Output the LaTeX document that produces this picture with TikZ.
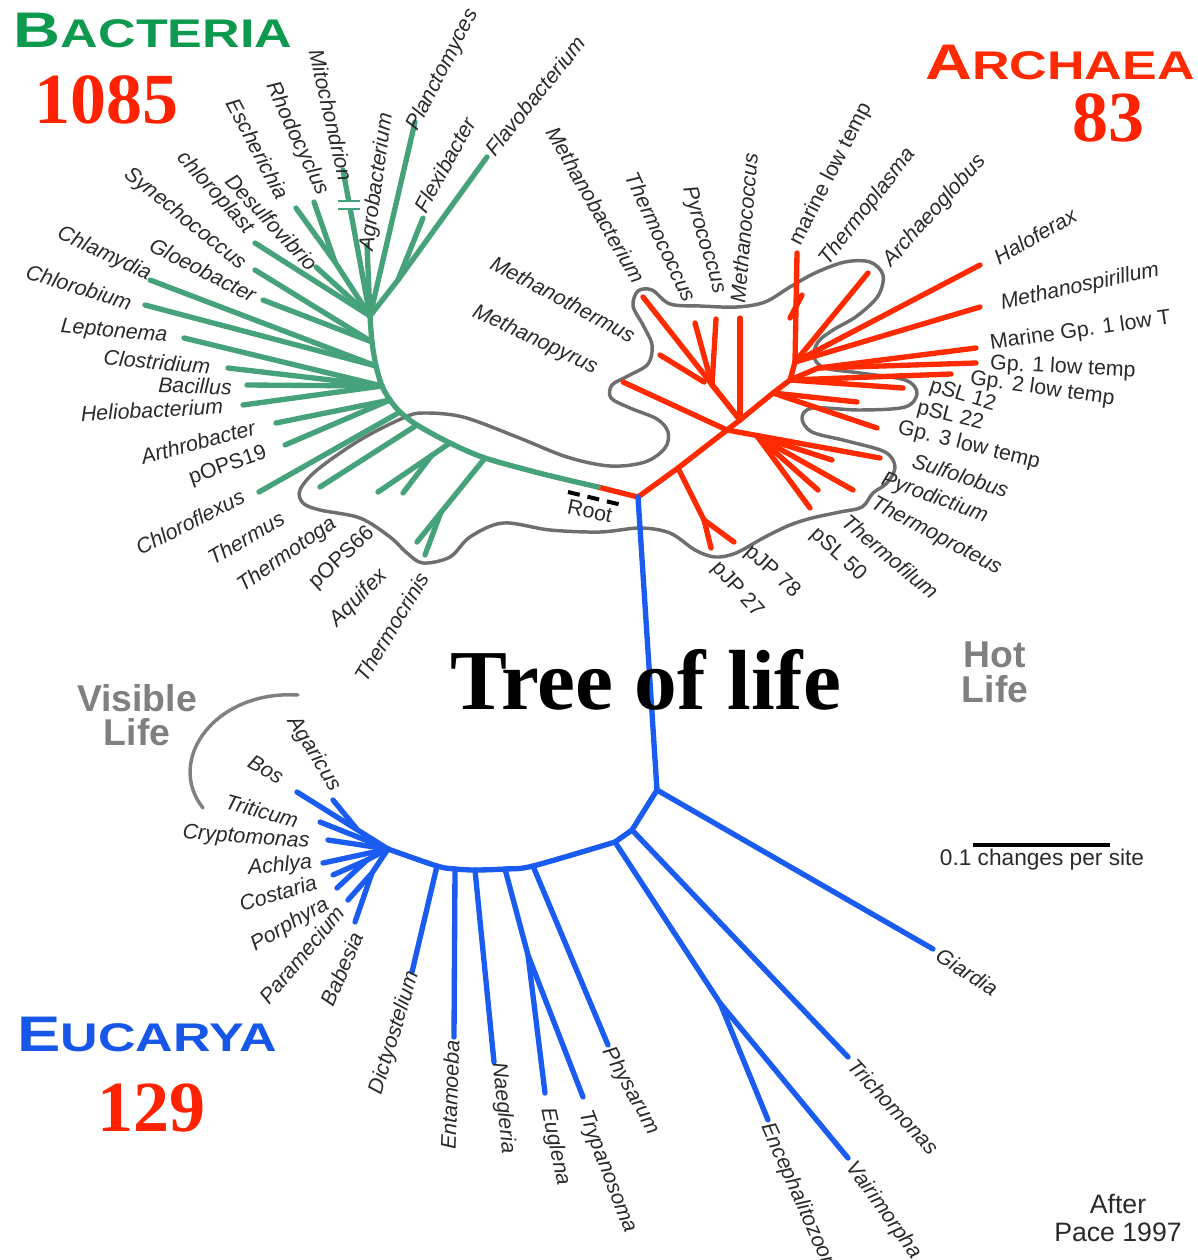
\documentclass[tikz,border=0pt]{standalone}
\usepackage{fontspec}
\setmainfont{Liberation Serif}
\setsansfont{Liberation Sans}
\usetikzlibrary{positioning}
\definecolor{BactGreen}{HTML}{0E9A4E}
\definecolor{TreeGreen}{HTML}{46A27B}
\definecolor{ArchRed}{HTML}{FF2A00}
\definecolor{EucBlue}{HTML}{1A5BF0}
\definecolor{EucTitle}{HTML}{1656E8}
\definecolor{NumRed}{HTML}{FF2200}
\definecolor{HotGray}{HTML}{6E6E6E}
\definecolor{LabelGray}{HTML}{2A2A2A}
\definecolor{TagGray}{HTML}{808080}

\newcommand{\domainname}[2]{\scalebox{1.3}[1]{\fontsize{37.5}{37.5}\selectfont #1\fontsize{30}{30}\selectfont #2}}

\tikzset{
  branch/.style={line width=4pt, line cap=round, line join=round},
  bact/.style={branch, TreeGreen},
  arch/.style={branch, ArchRed},
  euc/.style={branch, EucBlue},
  hotline/.style={HotGray, line width=2.6pt},
  taxon/.style={font=\sffamily\itshape\fontsize{16}{18}\selectfont, text=LabelGray, inner sep=0pt},
  clone/.style={font=\sffamily\fontsize{16}{18}\selectfont, text=LabelGray, inner sep=0pt},
  count/.style={font=\rmfamily\bfseries\fontsize{54}{54}\selectfont, text=NumRed, inner sep=0pt},
  lifetag/.style={font=\sffamily\bfseries\fontsize{28}{26}\selectfont, text=TagGray, align=center, inner sep=0pt},
}

\begin{document}
\begin{tikzpicture}[x=0.75pt,y=-0.75pt, line cap=round, line join=round]
\useasboundingbox (0,0) rectangle (1198,1260);

% hot life outline
\draw[hotline] plot[smooth cycle, tension=0.55] coordinates {
 (403,418) (423,413) (463,417) (517,437) (567,457) (610,466) (645,462) (665,448)
 (668,432) (657,419) (630,408) (611,398) (612,385) (628,376) (648,364) (652,345)
 (643,325) (633,306) (638,291) (652,290) (670,304) (700,306) (737,307) (765,302)
 (790,287) (815,273) (845,262) (870,262) (883,275) (878,296) (857,316) (833,330)
 (818,342) (814,357) (825,368) (860,373) (905,380) (917,393) (905,407) (860,410)
 (813,408) (802,418) (812,432) (847,441) (885,452) (895,467) (887,483) (873,493)
 (862,507) (840,512) (812,518) (790,525) (765,537) (736,553) (715,557) (695,550)
 (670,533) (640,528) (600,532) (550,530) (503,523) (470,537) (450,557) (423,563)
 (407,553) (390,537) (360,518) (320,510) (303,503) (300,490) (317,470) (360,440)};

% root
\coordinate (root) at (638,497);
\coordinate (rootdashl) at (568,492);
\coordinate (rootdashr) at (622,505);
\draw[line width=3pt, dash pattern=on 9pt off 6pt, line cap=butt] (rootdashl) -- (rootdashr);
\node[font=\sffamily\fontsize{16}{18}\selectfont, text=LabelGray, rotate=-12] (roottxt) at (590,511) {Root};

% ---------------- bacteria
\coordinate (b0) at (598,487);
\coordinate (b1) at (485,458);
\coordinate (b2) at (450,443);
\coordinate (b3) at (417,425);
\coordinate (b4) at (400,412);
\coordinate (b5) at (390,400);
\coordinate (b6) at (382,386);
\coordinate (b7) at (376,366);
\coordinate (b8) at (372,342);
\coordinate (b9) at (370,316);
\draw[arch] (root) -- (b0);
\draw[bact] plot[smooth] coordinates {(b0) (543,474) (b1) (b2) (b3) (b4) (b5) (b6) (b7) (b8) (b9)};

\coordinate (planctomyces) at (415,122);
\coordinate (flavobacterium) at (487,157);
\coordinate (flexibacter) at (423,218);
\coordinate (agrobacterium) at (367,245);
\coordinate (mitochondrion) at (343,170);
\coordinate (rhodocyclus) at (314,202);
\coordinate (escherichia) at (296,208);
\coordinate (desulfovibrio) at (316,267);
\coordinate (chloroplast) at (255,243);
\coordinate (synechococcus) at (255,270);
\coordinate (gloeobacter) at (263,300);
\coordinate (chlamydia) at (150,280);
\coordinate (chlorobium) at (145,305);
\coordinate (leptonema) at (184,338);
\coordinate (clostridium) at (228,368);
\coordinate (bacillus) at (247,385);
\coordinate (heliobacterium) at (243,405);
\coordinate (arthrobacter) at (276,423);
\coordinate (pops19) at (285,445);
\coordinate (chloroflexus) at (259,492);
\coordinate (thermus) at (320,487);
\coordinate (thermotoga) at (378,492);
\coordinate (pops66) at (403,493);
\coordinate (aquifex) at (417,542);
\coordinate (thermocrinis) at (425,555);
\coordinate (q1) at (441,512);
\coordinate (q2) at (432,455);
\coordinate (e1) at (335,262);
\coordinate (f1) at (398,280);

\draw[bact] (b1) -- (aquifex);
\draw[bact] (q1) -- (thermocrinis);
\draw[bact] (b2) -- (thermotoga);
\draw[bact] (q2) -- (pops66);
\draw[bact] (b3) -- (thermus);
\draw[bact] (b4) -- (chloroflexus);
\draw[bact] (b5) -- (pops19);
\draw[bact] (b5) -- (arthrobacter);
\draw[bact] (b6) -- (heliobacterium);
\draw[bact] (b6) -- (bacillus);
\draw[bact] (b6) -- (clostridium);
\draw[bact] (b6) -- (leptonema);
\draw[bact] (b7) -- (chlorobium);
\draw[bact] (b7) -- (chlamydia);
\draw[bact] (b8) -- (gloeobacter);
\draw[bact] (b8) -- (synechococcus);
\draw[bact] (b9) -- (chloroplast);
\draw[bact] (b9) -- (desulfovibrio);
\draw[bact] (b9) -- (e1) -- (rhodocyclus);
\draw[bact] (e1) -- (escherichia);
\draw[bact] (b9) -- (mitochondrion);
\draw[bact] (b9) -- (agrobacterium);
\draw[bact] (b9) -- (planctomyces);
\draw[bact] (b9) -- (f1) -- (flavobacterium);
\draw[bact] (f1) -- (flexibacter);
% break mark on the mitochondrion branch
\fill[white] (339,200) rectangle (361,210);
\draw[TreeGreen, line width=2pt, line cap=butt] (338,201) -- (360,201);
\draw[TreeGreen, line width=2pt, line cap=butt] (338,209) -- (360,209);

\node[taxon, rotate=-77] (mitochondriontxt) at (331,115) {Mitochondrion};
\node[taxon, rotate=63] (planctomycestxt) at (443,70) {Planctomyces};
\node[taxon, rotate=51] (flavobacteriumtxt) at (535,96) {Flavobacterium};
\node[taxon, rotate=61] (flexibactertxt) at (445,165) {Flexibacter};
\node[taxon, rotate=82] (agrobacteriumtxt) at (377,182) {Agrobacterium};
\node[taxon, rotate=-65] (rhodocyclustxt) at (297,139) {Rhodocyclus};
\node[taxon, rotate=-62] (escherichiatxt) at (258,149) {Escherichia};
\node[taxon, rotate=-47] (desulfovibriotxt) at (272,222) {Desulfovibrio};
\node[taxon, rotate=-48] (chloroplasttxt) at (215,193) {chloroplast};
\node[taxon, rotate=-39] (synechococcustxt) at (185,219) {Synechococcus};
\node[taxon, rotate=-27] (gloeobactertxt) at (203,270) {Gloeobacter};
\node[taxon, rotate=-25] (chlamydiatxt) at (104,254) {Chlamydia};
\node[taxon, rotate=-17] (chlorobiumtxt) at (79,287) {Chlorobium};
\node[taxon, rotate=-5] (leptonematxt) at (114,332) {Leptonema};
\node[taxon, rotate=-5] (clostridiumtxt) at (157,362) {Clostridium};
\node[taxon, rotate=-2] (bacillustxt) at (195,386) {Bacillus};
\node[taxon, rotate=3] (heliobacteriumtxt) at (152,410) {Heliobacterium};
\node[taxon, rotate=15] (arthrobactertxt) at (198,442) {Arthrobacter};
\node[clone, rotate=19] (pops19txt) at (228,466) {pOPS19};
\node[taxon, rotate=27] (chloroflexustxt) at (190,522) {Chloroflexus};
\node[taxon, rotate=30] (thermustxt) at (246,538) {Thermus};
\node[taxon, rotate=35] (thermotogatxt) at (287,555) {Thermotoga};
\node[clone, rotate=43] (pops66txt) at (342,558) {pOPS66};
\node[taxon, rotate=45] (aquifextxt) at (359,598) {Aquifex};
\node[taxon, rotate=59] (thermocrinistxt) at (392,627) {Thermocrinis};

% ---------------- archaea
\coordinate (a1) at (678,468);
\coordinate (a2) at (727,430);
\coordinate (a3) at (740,420);
\coordinate (a4) at (773,393);
\coordinate (a5) at (790,380);
\coordinate (a6) at (795,362);
\draw[arch] (root) -- (a1) -- (a2) -- (a3) -- (a4) -- (a5) -- (a6);

\coordinate (pjp27) at (711,548);
\coordinate (pjp78) at (734,542);
\coordinate (p0) at (704,520);
\coordinate (gpthree) at (880,458);
\coordinate (s1) at (757,436);
\coordinate (sulfolobus) at (832,460);
\coordinate (pyrodictium) at (853,490);
\coordinate (thermoproteus) at (818,490);
\coordinate (thermofilum) at (810,508);
\coordinate (methanopyrus) at (623,382);
\coordinate (methanothermus) at (643,297);
\coordinate (methanobacterium) at (660,355);
\coordinate (mjoin) at (704,382);
\coordinate (thermococcus) at (695,323);
\coordinate (pyrococcus) at (716,319);
\coordinate (v1) at (712,385);
\coordinate (methanococcus) at (740,318);
\coordinate (pslfifty) at (857,402);
\coordinate (psltwentytwo) at (877,428);
\coordinate (psltwelve) at (903,388);
\coordinate (gptwo) at (951,374);
\coordinate (mg) at (818,368);
\coordinate (marinegp) at (976,348);
\coordinate (gpone) at (976,363);
\coordinate (marinelow) at (797,253);
\coordinate (t1) at (790,318);
\coordinate (thermoplasma) at (802,295);
\coordinate (archaeoglobus) at (868,273);
\coordinate (haloferax) at (980,265);
\coordinate (methanospirillum) at (980,307);

\draw[arch] (a1) -- (p0) -- (pjp27);
\draw[arch] (p0) -- (pjp78);
\draw[arch] (a2) -- (gpthree);
\draw[arch] (s1) -- (sulfolobus);
\draw[arch] (s1) -- (pyrodictium);
\draw[arch] (s1) -- (thermoproteus);
\draw[arch] (s1) -- (thermofilum);
\draw[arch] (a2) -- (methanopyrus);
\draw[arch] (a3) -- (methanothermus);
\draw[arch] (mjoin) -- (methanobacterium);
\draw[arch] (a3) -- (v1) -- (thermococcus);
\draw[arch] (v1) -- (pyrococcus);
\draw[arch] (a3) -- (methanococcus);
\draw[arch] (a4) -- (pslfifty);
\draw[arch] (a4) -- (psltwentytwo);
\draw[arch] (a5) -- (psltwelve);
\draw[arch] (a5) -- (gptwo);
\draw[arch] (a5) -- (mg) -- (marinegp);
\draw[arch] (mg) -- (gpone);
\draw[arch] (a6) -- (marinelow);
\draw[arch] (t1) -- (thermoplasma);
\draw[arch] (a6) -- (archaeoglobus);
\draw[arch] (a6) -- (haloferax);
\draw[arch] (a6) -- (methanospirillum);

\node[taxon, rotate=-60] (methanobacteriumtxt) at (596,205) {Methanobacterium};
\node[taxon, rotate=-65] (thermococcustxt) at (661,237) {Thermococcus};
\node[taxon, rotate=-74] (pyrococcustxt) at (704,240) {Pyrococcus};
\node[taxon, rotate=85] (methanococcustxt) at (744,228) {Methanococcus};
\node[clone, rotate=63] (marinelowtxt) at (831,174) {marine low temp};
\node[taxon, rotate=52] (thermoplasmatxt) at (868,207) {Thermoplasma};
\node[taxon, rotate=48] (archaeoglobustxt) at (935,211) {Archaeoglobus};
\node[taxon, rotate=30] (haloferaxtxt) at (1035,236) {Haloferax};
\node[taxon, rotate=12] (methanospirillumtxt) at (1080,287) {Methanospirillum};
\node[clone, rotate=8, anchor=west] (marinegptxt) at (990,344) {Marine Gp. 1 low T};
\node[clone, rotate=-3, anchor=west] (gponetxt) at (990,364) {Gp. 1 low temp};
\node[clone, rotate=-8, anchor=west] (gptwotxt) at (970,379) {Gp. 2 low temp};
\node[clone, rotate=-17, anchor=west] (psltwelvetxt) at (930,386) {pSL 12};
\node[clone, rotate=-14, anchor=west] (psltwentytwotxt) at (917,408) {pSL 22};
\node[clone, rotate=-14, anchor=west] (gpthreetxt) at (898,428) {Gp. 3 low temp};
\node[taxon, rotate=-18, anchor=west] (sulfolobustxt) at (913,460) {Sulfolobus};
\node[taxon, rotate=-20, anchor=west] (pyrodictiumtxt) at (882,479) {Pyrodictium};
\node[taxon, rotate=-28, anchor=west] (thermoproteustxt) at (872,502) {Thermoproteus};
\node[taxon, rotate=-40, anchor=west] (thermofilumtxt) at (845,518) {Thermofilum};
\node[clone, rotate=-43] (pslfiftytxt) at (838,555) {pSL 50};
\node[clone, rotate=-42] (pjp78txt) at (772,572) {pJP 78};
\node[clone, rotate=-48] (pjp27txt) at (737,590) {pJP 27};
\node[taxon, rotate=-28] (methanothermustxt) at (563,299) {Methanothermus};
\node[taxon, rotate=-25] (methanopyrustxt) at (535,340) {Methanopyrus};

% ---------------- eucarya
\coordinate (j1) at (657,790);
\coordinate (j2) at (632,830);
\coordinate (j3) at (615,842);
\coordinate (k1) at (720,1003);
\coordinate (ar1) at (533,866);
\coordinate (ar2) at (505,869);
\coordinate (ar3) at (475,870);
\coordinate (ar4) at (455,869);
\coordinate (ar5) at (437,866);
\coordinate (vh) at (388,849);
\coordinate (kk) at (528,955);
\coordinate (giardia) at (933,949);
\coordinate (trichomonas) at (848,1057);
\coordinate (encephalitozoon) at (768,1120);
\coordinate (vairimorpha) at (848,1158);
\coordinate (physarum) at (608,1045);
\coordinate (euglena) at (545,1093);
\coordinate (trypanosoma) at (583,1097);
\coordinate (naegleria) at (494,1062);
\coordinate (entamoeba) at (454,1037);
\coordinate (dictyostelium) at (412,972);

\draw[euc] (root) -- (j1) -- (giardia);
\draw[euc] (j1) -- (j2) -- (trichomonas);
\draw[euc] (j2) -- (j3) -- (k1) -- (vairimorpha);
\draw[euc] (k1) -- (encephalitozoon);
\draw[euc] plot[smooth] coordinates {(j3) (ar1) (ar2) (ar3) (ar4) (ar5) (vh)};
\draw[euc] (ar1) -- (physarum);
\draw[euc] (ar2) -- (kk) -- (euglena);
\draw[euc] (kk) -- (trypanosoma);
\draw[euc] (ar3) -- (naegleria);
\draw[euc] (ar4) -- (entamoeba);
\draw[euc] (ar5) -- (dictyostelium);

% visible life crown
\coordinate (bos) at (297,792);
\coordinate (agaricus) at (333,800);
\coordinate (agjoin) at (356,828);
\coordinate (triticum) at (320,822);
\coordinate (cryptomonas) at (328,840);
\coordinate (achlya) at (323,863);
\coordinate (costaria) at (333,875);
\coordinate (porphyra) at (337,888);
\coordinate (paramecium) at (348,900);
\coordinate (babesia) at (355,922);
\coordinate (vc1) at (367,860);
\coordinate (vc2) at (372,873);
\draw[euc] (vh) -- (bos);
\draw[euc] (agjoin) -- (agaricus);
\draw[euc] (vh) -- (triticum);
\draw[euc] (vh) -- (cryptomonas);
\draw[euc] (vh) -- (achlya);
\draw[euc] (vh) -- (vc1) -- (costaria);
\draw[euc] (vc1) -- (porphyra);
\draw[euc] (vh) -- (vc2) -- (paramecium);
\draw[euc] (vc2) -- (babesia);

\node[taxon, rotate=-58] (agaricustxt) at (314,754) {Agaricus};
\node[taxon, rotate=-30] (bostxt) at (266,769) {Bos};
\node[taxon, rotate=-15] (triticumtxt) at (262,811) {Triticum};
\node[taxon, rotate=-4] (cryptomonastxt) at (246,838) {Cryptomonas};
\node[taxon, rotate=5] (achlyatxt) at (280,866) {Achlya};
\node[taxon, rotate=17] (costariatxt) at (278,893) {Costaria};
\node[taxon, rotate=30] (porphyratxt) at (290,925) {Porphyra};
\node[taxon, rotate=50] (parameciumtxt) at (302,955) {Paramecium};
\node[taxon, rotate=67] (babesiatxt) at (342,969) {Babesia};
\node[taxon, rotate=73] (dictyosteliumtxt) at (395,1033) {Dictyostelium};
\node[taxon, rotate=88] (entamoebatxt) at (450,1095) {Entamoeba};
\node[taxon, rotate=-84] (naegleriatxt) at (503,1108) {Naegleria};
\node[taxon, rotate=-78] (euglenatxt) at (555,1147) {Euglena};
\node[taxon, rotate=-69] (trypanosomatxt) at (607,1172) {Trypanosoma};
\node[taxon, rotate=-61] (physarumtxt) at (631,1091) {Physarum};
\node[taxon, rotate=-66, anchor=west] (encephalitozoontxt) at (766,1124) {Encephalitozoon};
\node[taxon, rotate=-54, anchor=west] (vairimorphatxt) at (850,1164) {Vairimorpha};
\node[taxon, rotate=-47, anchor=west] (trichomonastxt) at (852,1062) {Trichomonas};
\node[taxon, rotate=-33, anchor=west] (giardiatxt) at (938,953) {Giardia};

% visible life arc
\coordinate (visarctop) at (298,695);
\coordinate (visarcend) at (203,808);
\draw[TagGray, line width=2.6pt] (visarctop) .. controls (215,690) and (165,760) .. (visarcend);

% titles and counts
\node[font=\sffamily\bfseries, text=BactGreen, inner sep=0pt] (bacteriatitle) at (153,30) {\domainname{B}{ACTERIA}};
\node[count] (bacteriacount) at (106,100) {1085};
\node[font=\sffamily\bfseries, text=ArchRed, inner sep=0pt] (archaeatitle) at (1060,62) {\domainname{A}{RCHAEA}};
\node[count] (archaeacount) at (1108,118) {83};
\node[font=\sffamily\bfseries, text=EucTitle, inner sep=0pt] (eucaryatitle) at (147,1034) {\domainname{E}{UCARYA}};
\node[count] (eucaryacount) at (151,1108) {129};
\node[font=\rmfamily\bfseries\fontsize{64}{64}\selectfont, inner sep=0pt] (treetitle) at (646,680) {Tree of life};
\node[lifetag] (visibletag) at (137,715) {Visible\\Life};
\node[lifetag] (hottag) at (995,672) {Hot\\Life};

% scale bar
\coordinate (scalel) at (973,845);
\coordinate (scaler) at (1110,845);
\draw[line width=2.5pt, line cap=butt] (scalel) -- (scaler);
\node[font=\sffamily\fontsize{17}{19}\selectfont, text=LabelGray] (scaletxt) at (1042,860) {0.1 changes per site};

% credit
\node[font=\sffamily\fontsize{20}{21}\selectfont, text=LabelGray, align=center] (credittxt) at (1118,1218) {After\\Pace 1997};

\end{tikzpicture}
\end{document}
